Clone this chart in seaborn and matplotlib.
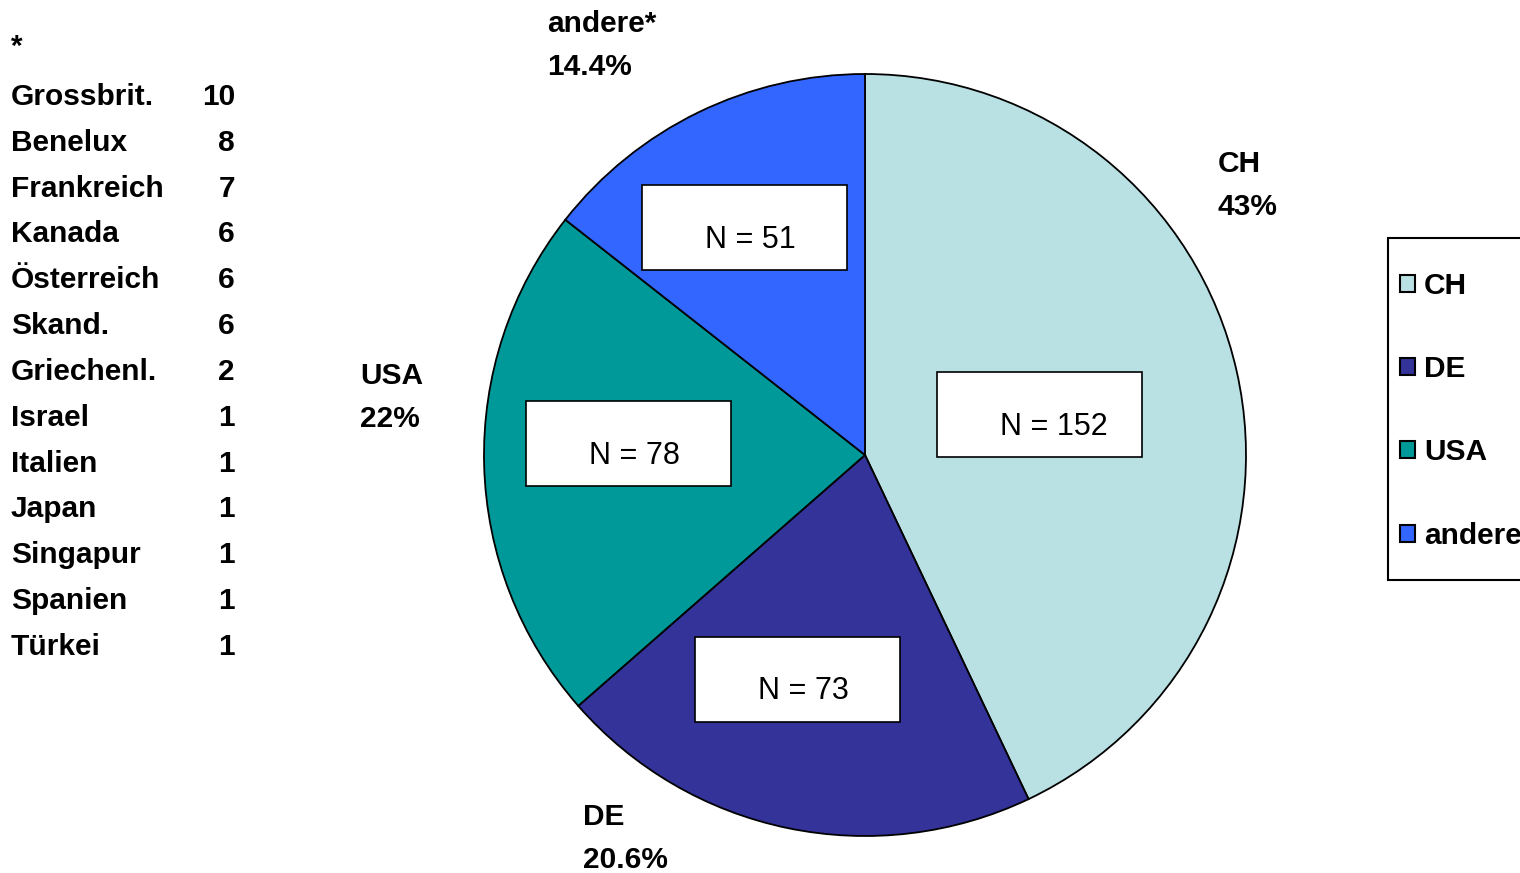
import matplotlib
matplotlib.use("Agg")
import matplotlib.pyplot as plt
from matplotlib.patches import Rectangle, Patch
import seaborn as sns

# data
regions = ["CH", "DE", "USA", "andere"]
counts = [152, 73, 78, 51]
pct_labels = ["43%", "20.6%", "22%", "14.4%"]
outer_names = ["CH", "DE", "USA", "andere*"]
other_countries = ["Grossbrit.", "Benelux", "Frankreich", "Kanada", "Österreich", "Skand.",
                   "Griechenl.", "Israel", "Italien", "Japan", "Singapur", "Spanien", "Türkei"]
other_counts = [10, 8, 7, 6, 6, 6, 2, 1, 1, 1, 1, 1, 1]

colors = ["#B9E0E3", "#333399", "#009999", "#3366FF"]

sns.set_theme(style="white")
plt.rcParams["font.family"] = ["Liberation Sans", "DejaVu Sans"]
plt.rcParams["text.color"] = "black"

W, H = 1520, 873
R = 381.0
fig = plt.figure(figsize=(W / 100, H / 100), dpi=100)


def fx(x):
    return x / W


def fy(y):
    return 1 - y / H


# pie
ax = fig.add_axes([fx(865 - R), fy(455 + R), 2 * R / W, 2 * R / H])
wedges, _ = ax.pie(counts, colors=colors, startangle=90, counterclock=False,
                   wedgeprops=dict(edgecolor="black", linewidth=1.3))
ax.set_xlim(-1, 1)
ax.set_ylim(-1, 1)
ax.axis("off")

# N boxes (centre offsets in units of pie radius)
box_centers = [(0.459, 0.105), (-0.176, -0.588), (-0.622, 0.029), (-0.315, 0.596)]
bw, bh = 205 / R, 85 / R
for (cx, cy), n in zip(box_centers, counts):
    ax.add_patch(Rectangle((cx - bw / 2, cy - bh / 2), bw, bh, facecolor="white",
                           edgecolor="black", linewidth=1.2, zorder=3))
    ax.text(cx - bw / 2 + 63 / R, cy - 12 / R, f"N = {n}", ha="left", va="center",
            fontsize=22, color="black", zorder=4)

# outer labels (left x, first-line centre y in pixels)
outer_pos = [(1218, 164), (583, 817), (360, 376), (547, 24)]
for (x, y), name, pct in zip(outer_pos, outer_names, pct_labels):
    fig.text(fx(x), fy(y), name, ha="left", va="center", fontsize=21.5, fontweight="bold")
    fig.text(fx(x), fy(y + 43), pct, ha="left", va="center", fontsize=21.5, fontweight="bold")

# footnote table
fig.text(fx(11), fy(47), "*", ha="left", va="center", fontsize=21.5, fontweight="bold")
for i, (name, c) in enumerate(zip(other_countries, other_counts)):
    y = 97 + i * 45.83
    fig.text(fx(11), fy(y), name, ha="left", va="center", fontsize=21.5, fontweight="bold")
    fig.text(fx(235), fy(y), str(c), ha="right", va="center", fontsize=21.5, fontweight="bold")

# legend
fig.patches.append(Rectangle((fx(1388), fy(580)), fx(1560 - 1388), (580 - 238) / H,
                             transform=fig.transFigure, facecolor="white",
                             edgecolor="black", linewidth=1.5, zorder=1))
handles = [Patch(facecolor=c, edgecolor="black", linewidth=1.5) for c in colors]
leg = fig.legend(handles, regions, loc="upper left", bbox_to_anchor=(fx(1400), fy(272)),
                 frameon=False, borderpad=0, borderaxespad=0, handlelength=0.5,
                 handleheight=0.5, handletextpad=0.3, labelspacing=1.85,
                 prop=dict(size=21.5, weight="bold"))
leg.set_zorder(2)
for t in leg.get_texts():
    t.set_color("black")

fig.savefig("out.png", dpi=100)
